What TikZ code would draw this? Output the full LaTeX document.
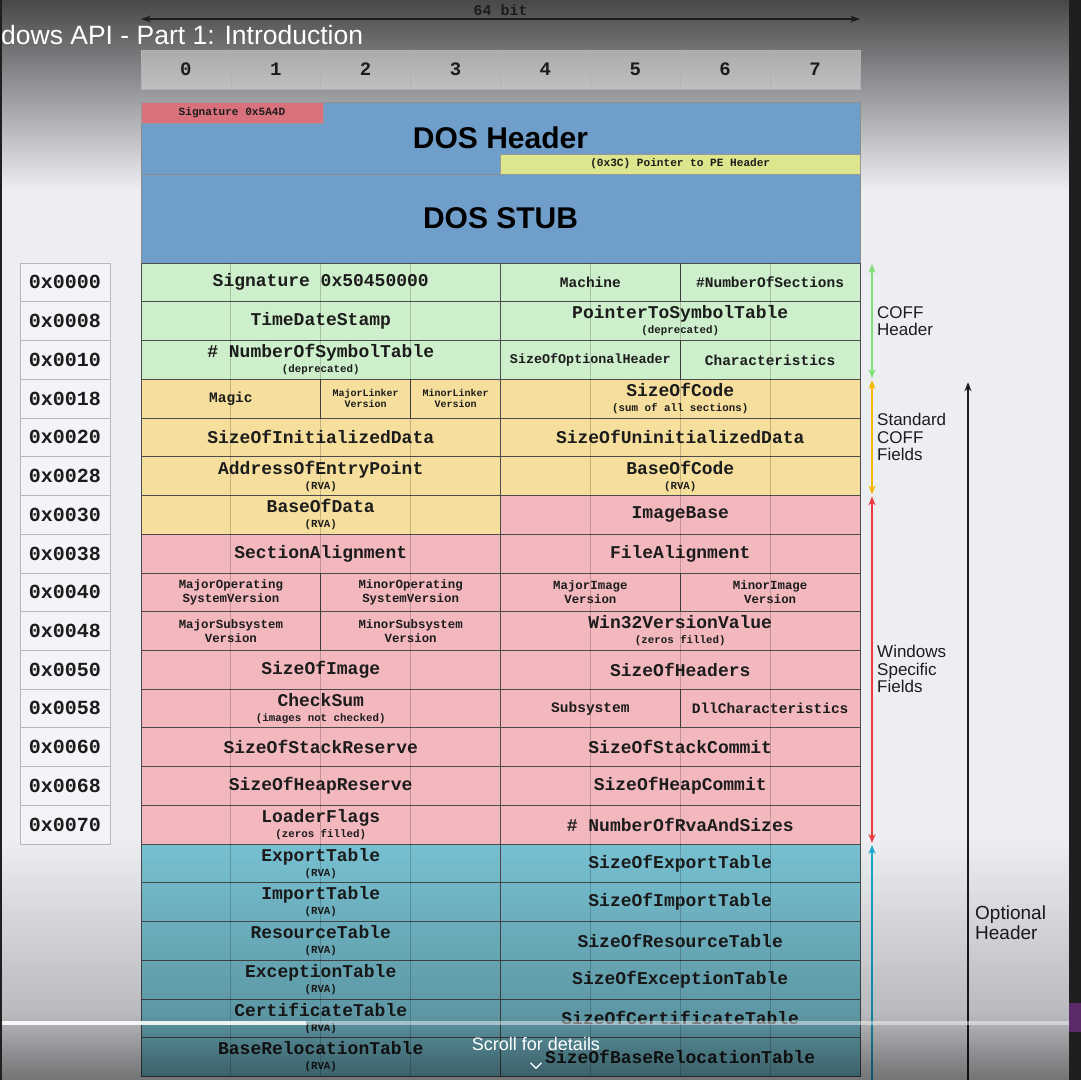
\documentclass[tikz,border=0pt]{standalone}
\usepackage{fontspec}
\setmainfont{Liberation Sans}
\newfontfamily\monofont{Liberation Mono}
\usetikzlibrary{arrows.meta, positioning, fadings}

\definecolor{pagegrey}{HTML}{ECEEF2}
\definecolor{topgrey}{HTML}{48484A}
\definecolor{midgrey}{HTML}{BDBEC1}
\definecolor{stripdark}{HTML}{1F1F1F}
\definecolor{inkdark}{HTML}{1C1C1C}
\definecolor{dosblue}{HTML}{6F9ECB}
\definecolor{sigred}{HTML}{D9727C}
\definecolor{ptryellow}{HTML}{DDE68C}
\definecolor{coffgreen}{HTML}{CDEFCB}
\definecolor{stdyellow}{HTML}{F6DF9D}
\definecolor{winpink}{HTML}{F2B8BE}
\definecolor{dirblue}{HTML}{78C2D3}
\definecolor{offgrey}{HTML}{F3F4F7}
\definecolor{coffarrow}{HTML}{7CE077}
\definecolor{stdarrow}{HTML}{F5B700}
\definecolor{winarrow}{HTML}{EE3A3F}
\definecolor{dirarrow}{HTML}{1AA9CF}
\definecolor{barpurple}{HTML}{5B2A6B}

\newcommand{\subnote}[1]{{\fontsize{10.8}{10.8}\selectfont #1}}

\begin{document}
\begin{tikzpicture}[x=1pt, y=-1pt,
    field/.style={draw=black!70, line width=0.6pt, inner sep=0pt, outer sep=0pt,
        anchor=north west, minimum height=38.73pt, align=center, text=inkdark,
        font=\monofont\bfseries\fontsize{18}{18}\selectfont},
    midtext/.style={font=\monofont\bfseries\fontsize{14.5}{15}\selectfont},
    opttext/.style={font=\monofont\bfseries\fontsize{13.4}{14}\selectfont},
    ostext/.style={font=\monofont\bfseries\fontsize{12.4}{13.5}\selectfont},
    tinytext/.style={font=\monofont\bfseries\fontsize{10}{11.3}\selectfont},
    w1/.style={minimum width=89.875pt},
    w2/.style={minimum width=179.75pt},
    w4/.style={minimum width=359.5pt},
    bytecell/.style={draw=black!30, line width=0.6pt, fill=white, fill opacity=0.4, text opacity=1,
        minimum width=89.875pt, minimum height=39pt, inner sep=0pt, outer sep=0pt, anchor=north west,
        font=\monofont\bfseries\fontsize{19}{19}\selectfont, text=inkdark},
    offbox/.style={draw=black!28, line width=0.6pt, fill=offgrey, minimum width=90pt, minimum height=38.73pt,
        inner sep=0pt, outer sep=0pt, anchor=north west, text=inkdark,
        font=\monofont\bfseries\fontsize{20}{20}\selectfont},
    dosblock/.style={draw=black!45, line width=0.6pt, fill=dosblue, anchor=north west, minimum width=719pt,
        inner sep=0pt, outer sep=0pt, text=black, font=\bfseries\fontsize{30}{30}\selectfont},
    dostag/.style={draw=black!40, line width=0.6pt, inner sep=0pt, outer sep=0pt, text=inkdark,
        font=\monofont\bfseries\fontsize{11.1}{11.1}\selectfont},
    sidetag/.style={anchor=west, align=left, inner sep=0pt, text=inkdark, font=\fontsize{17}{17.5}\selectfont},
    spanarrow/.style={<->, >={Stealth[length=9pt, width=7pt]}, line width=1.5pt, shorten <=1pt, shorten >=1pt},
    uparrow/.style={<-, >={Stealth[length=9pt, width=7pt]}, line width=1.5pt, shorten <=1pt}
]

\fill[pagegrey] (0,0) rectangle (1081,1080);
\shade[top color=topgrey, middle color=midgrey, bottom color=pagegrey] (0,0) rectangle (1081,190);

\foreach \b in {0,...,7}
    \node[bytecell] (byte\b) at ({141+89.875*\b},50) {\b};

\draw[<->, >={Stealth[length=10pt, width=7pt]}, line width=1.6pt, inkdark] ([yshift=31pt]byte0.north west) -- ([yshift=31pt]byte7.north east);
\node[inner sep=0pt, text=inkdark, font=\monofont\bfseries\fontsize{15}{15}\selectfont] (bitwidth) at ([yshift=40pt]byte4.north west) {64 bit};

\node[dosblock, minimum height=72pt] (dosheader) at (141,102) {DOS Header};
\node[dosblock, minimum height=89pt] (dosstub) at (141,174) {DOS STUB};
\node[dostag, fill=sigred, anchor=north west, minimum width=182pt, minimum height=21pt] (mzsig) at (dosheader.north west) {Signature 0x5A4D};
\node[dostag, fill=ptryellow, anchor=south east, minimum width=359.5pt, minimum height=20pt] (peptr) at (dosheader.south east) {(0x3C) Pointer to PE Header};

\foreach \off [count=\i from 0] in {0000,0008,0010,0018,0020,0028,0030,0038,0040,0048,0050,0058,0060,0068,0070}
    \node[offbox] (off\i) at (20,{263+38.73*\i}) {0x\off};

\begin{scope}[shift={(141,263)}, x=89.875pt, y=-38.73pt]
\node[field, w4, fill=coffgreen] (peSignature) at (0,0) {Signature 0x50450000};
\node[field, w2, fill=coffgreen, midtext] (machine) at (4,0) {Machine};
\node[field, w2, fill=coffgreen, midtext] (numsections) at (6,0) {\#NumberOfSections};

\node[field, w4, fill=coffgreen] (timestamp) at (0,1) {TimeDateStamp};
\node[field, w4, fill=coffgreen] (symtabptr) at (4,1) {PointerToSymbolTable\\[-3pt]\subnote{(deprecated)}};

\node[field, w4, fill=coffgreen] (numsymbols) at (0,2) {\# NumberOfSymbolTable\\[-3pt]\subnote{(deprecated)}};
\node[field, w2, fill=coffgreen, opttext] (optsize) at (4,2) {SizeOfOptionalHeader};
\node[field, w2, fill=coffgreen, midtext] (characteristics) at (6,2) {Characteristics};

\node[field, w2, fill=stdyellow, midtext] (magic) at (0,3) {Magic};
\node[field, w1, fill=stdyellow, tinytext] (majorlinker) at (2,3) {MajorLinker\\Version};
\node[field, w1, fill=stdyellow, tinytext] (minorlinker) at (3,3) {MinorLinker\\Version};
\node[field, w4, fill=stdyellow] (codesize) at (4,3) {SizeOfCode\\[-3pt]\subnote{(sum of all sections)}};

\node[field, w4, fill=stdyellow] (initsize) at (0,4) {SizeOfInitializedData};
\node[field, w4, fill=stdyellow] (uninitsize) at (4,4) {SizeOfUninitializedData};

\node[field, w4, fill=stdyellow] (entrypoint) at (0,5) {AddressOfEntryPoint\\[-3pt]\subnote{(RVA)}};
\node[field, w4, fill=stdyellow] (codebase) at (4,5) {BaseOfCode\\[-3pt]\subnote{(RVA)}};

\node[field, w4, fill=stdyellow] (database) at (0,6) {BaseOfData\\[-3pt]\subnote{(RVA)}};
\node[field, w4, fill=winpink] (imagebase) at (4,6) {ImageBase};

\node[field, w4, fill=winpink] (sectalign) at (0,7) {SectionAlignment};
\node[field, w4, fill=winpink] (filealign) at (4,7) {FileAlignment};

\node[field, w2, fill=winpink, ostext] (majoros) at (0,8) {MajorOperating\\SystemVersion};
\node[field, w2, fill=winpink, ostext] (minoros) at (2,8) {MinorOperating\\SystemVersion};
\node[field, w2, fill=winpink, ostext] (majorimage) at (4,8) {MajorImage\\Version};
\node[field, w2, fill=winpink, ostext] (minorimage) at (6,8) {MinorImage\\Version};

\node[field, w2, fill=winpink, ostext] (majorsub) at (0,9) {MajorSubsystem\\Version};
\node[field, w2, fill=winpink, ostext] (minorsub) at (2,9) {MinorSubsystem\\Version};
\node[field, w4, fill=winpink] (win32ver) at (4,9) {Win32VersionValue\\[-3pt]\subnote{(zeros filled)}};

\node[field, w4, fill=winpink] (imagesize) at (0,10) {SizeOfImage};
\node[field, w4, fill=winpink] (headersize) at (4,10) {SizeOfHeaders};

\node[field, w4, fill=winpink] (checksum) at (0,11) {CheckSum\\[-3pt]\subnote{(images not checked)}};
\node[field, w2, fill=winpink, midtext] (subsystem) at (4,11) {Subsystem};
\node[field, w2, fill=winpink, midtext] (dllchars) at (6,11) {DllCharacteristics};

\node[field, w4, fill=winpink] (stackreserve) at (0,12) {SizeOfStackReserve};
\node[field, w4, fill=winpink] (stackcommit) at (4,12) {SizeOfStackCommit};

\node[field, w4, fill=winpink] (heapreserve) at (0,13) {SizeOfHeapReserve};
\node[field, w4, fill=winpink] (heapcommit) at (4,13) {SizeOfHeapCommit};

\node[field, w4, fill=winpink] (loaderflags) at (0,14) {LoaderFlags\\[-3pt]\subnote{(zeros filled)}};
\node[field, w4, fill=winpink] (numrva) at (4,14) {\# NumberOfRvaAndSizes};

\node[field, w4, fill=dirblue] (exporttab) at (0,15) {ExportTable\\[-3pt]\subnote{(RVA)}};
\node[field, w4, fill=dirblue] (exportsize) at (4,15) {SizeOfExportTable};

\node[field, w4, fill=dirblue] (importtab) at (0,16) {ImportTable\\[-3pt]\subnote{(RVA)}};
\node[field, w4, fill=dirblue] (importsize) at (4,16) {SizeOfImportTable};

\node[field, w4, fill=dirblue] (resourcetab) at (0,17) {ResourceTable\\[-3pt]\subnote{(RVA)}};
\node[field, w4, fill=dirblue] (resourcesize) at (4,17) {SizeOfResourceTable};

\node[field, w4, fill=dirblue] (exceptiontab) at (0,18) {ExceptionTable\\[-3pt]\subnote{(RVA)}};
\node[field, w4, fill=dirblue] (exceptionsize) at (4,18) {SizeOfExceptionTable};

\node[field, w4, fill=dirblue] (certtab) at (0,19) {CertificateTable\\[-3pt]\subnote{(RVA)}};
\node[field, w4, fill=dirblue] (certsize) at (4,19) {SizeOfCertificateTable};

\node[field, w4, fill=dirblue] (reloctab) at (0,20) {BaseRelocationTable\\[-3pt]\subnote{(RVA)}};
\node[field, w4, fill=dirblue] (relocsize) at (4,20) {SizeOfBaseRelocationTable};

\foreach \k in {1,2,3,5,6,7}
    \draw[black, opacity=0.2, line width=0.8pt] (\k,0) -- (\k,21);
\end{scope}

\draw[spanarrow, coffarrow] ([xshift=12pt]numsections.north east) -- ([xshift=12pt]characteristics.south east);
\draw[spanarrow, stdarrow] ([xshift=12pt]codesize.north east) -- ([xshift=12pt]codebase.south east);
\draw[spanarrow, winarrow] ([xshift=12pt]imagebase.north east) -- ([xshift=12pt]numrva.south east);

\coordinate (dirend) at (872,1080);
\coordinate (optend) at (968,1080);
\draw[uparrow, dirarrow] ([xshift=12pt]exportsize.north east) -- (dirend);
\draw[uparrow, inkdark] ([xshift=108pt, yshift=-2pt]codesize.north east) -- (optend);

\node[sidetag] (cofftag) at (877,321) {COFF\\Header};
\node[sidetag] (stdtag) at (877,437) {Standard\\COFF\\Fields};
\node[sidetag] (wintag) at (877,669) {Windows\\Specific\\Fields};
\node[sidetag, font=\fontsize{19}{20}\selectfont] (opttag) at (975,923) {Optional\\Header};

\fill[black, opacity=0.3, path fading=north] (0,840) rectangle (1081,1080);
\fill[black, opacity=0.3, path fading=north] (0,1015) rectangle (1081,1080);

\fill[white, opacity=0.45] (0,1021) rectangle (1069,1025);
\fill[white, opacity=0.8] (0,1021) rectangle (306,1025);

\node[inner sep=0pt, text=white, font=\fontsize{18}{18}\selectfont] (scrollhint) at (536,1044) {Scroll for details};
\draw[white, line width=1.3pt] ([xshift=-5.5pt, yshift=-12pt]scrollhint.south) -- ([yshift=-17.5pt]scrollhint.south) -- ([xshift=5.5pt, yshift=-12pt]scrollhint.south);

\node[anchor=base west, inner sep=0pt, text=white, font=\fontsize{26.5}{26.5}\selectfont] (title) at (1,45) {dows API - Part 1: Introduction};

\fill[stripdark] (1069,0) rectangle (1081,1080);
\fill[barpurple] (1069,1003) rectangle (1081,1032);
\fill[stripdark] (0,0) rectangle (2,1080);

\end{tikzpicture}
\end{document}
